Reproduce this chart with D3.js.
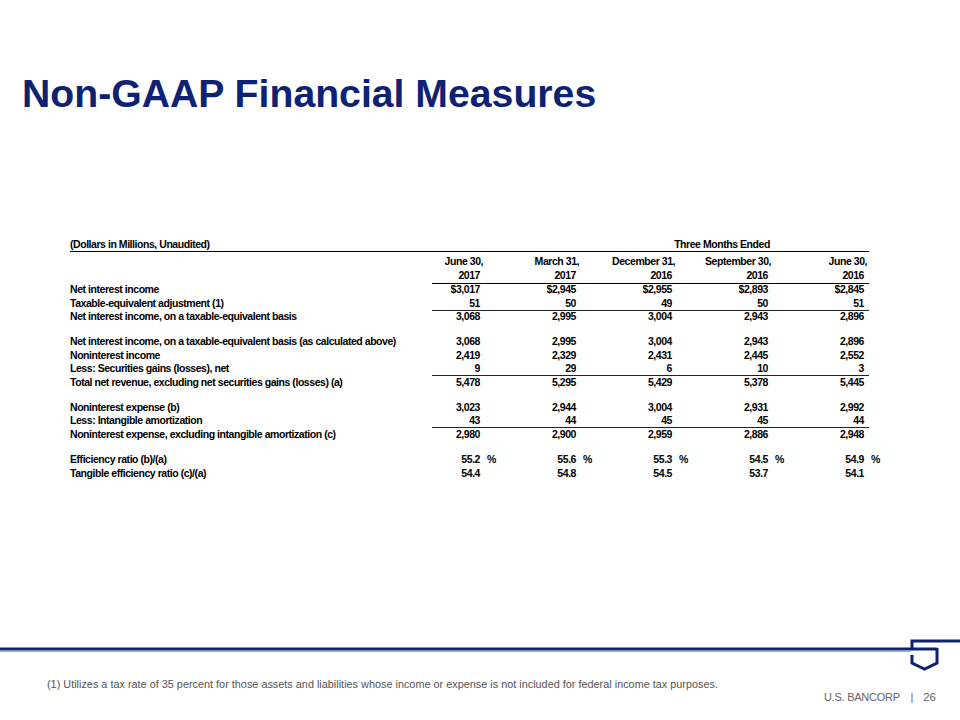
<!DOCTYPE html>
<html><head><meta charset="utf-8">
<script src="https://cdn.jsdelivr.net/npm/d3@7"></script>
<style>body{margin:0;background:#fff}svg{display:block}</style>
</head><body><svg id="c" width="960" height="720"></svg>
<script>
const title = "Non-GAAP Financial Measures";
const tableCaption = "(Dollars in Millions, Unaudited)";
const spanHeader = "Three Months Ended";
const periodMonths = ["June 30,", "March 31,", "December 31,", "September 30,", "June 30,"];
const periodYears = ["2017", "2017", "2016", "2016", "2016"];
const rowLabels = [
  "Net interest income",
  "Taxable-equivalent adjustment (1)",
  "Net interest income, on a taxable-equivalent basis",
  "Net interest income, on a taxable-equivalent basis (as calculated above)",
  "Noninterest income",
  "Less: Securities gains (losses), net",
  "Total net revenue, excluding net securities gains (losses) (a)",
  "Noninterest expense (b)",
  "Less: Intangible amortization",
  "Noninterest expense, excluding intangible amortization (c)",
  "Efficiency ratio (b)/(a)",
  "Tangible efficiency ratio (c)/(a)"
];
const rowGroups = [0,0,0,1,1,1,1,2,2,2,3,3];
const rowKinds = ["dollar","num","num","num","num","num","num","num","num","num","pct","ratio"];
const underlinedRows = [1,5,8];
const jun2017 = [3017,51,3068,3068,2419,9,5478,3023,43,2980,55.2,54.4];
const mar2017 = [2945,50,2995,2995,2329,29,5295,2944,44,2900,55.6,54.8];
const dec2016 = [2955,49,3004,3004,2431,6,5429,3004,45,2959,55.3,54.5];
const sep2016 = [2893,50,2943,2943,2445,10,5378,2931,45,2886,54.5,53.7];
const jun2016 = [2845,51,2896,2896,2552,3,5445,2992,44,2948,54.9,54.1];
const footnote = "(1) Utilizes a tax rate of 35 percent for those assets and liabilities whose income or expense is not included for federal income tax purposes.";
const brand = "U.S. BANCORP";
const pageNumber = "26";

const series = [jun2017, mar2017, dec2016, sep2016, jun2016];
const NAVY = "#0d2272";
const FONT = "'Liberation Sans', Arial, Helvetica, sans-serif";
const svg = d3.select("#c");

// Title
svg.append("text").attr("x", 22).attr("y", 107)
  .attr("font-family", FONT).attr("font-weight", "bold").attr("font-size", 39.2)
  .attr("fill", NAVY).text(title);

// Scales
const x = d3.scalePoint().domain(d3.range(series.length)).range([480, 864]);
const yRow = d3.scaleLinear().domain([0, rowLabels.length - 1]).range([289, 289 + (rowLabels.length - 1) * 13.7]);
const gapPerGroup = 11;
const yOf = i => yRow(i) + rowGroups[i] * gapPerGroup;

const t = svg.append("g").attr("font-family", FONT).attr("font-weight", "bold")
  .attr("font-size", 10.5).attr("letter-spacing", "-0.45px").attr("fill", "#000");
const base = 3.8;

// Caption & header rule
t.append("text").attr("x", 70).attr("y", 244 + base).text(tableCaption);
t.append("text").attr("x", 722).attr("y", 244 + base).attr("text-anchor", "middle").text(spanHeader);
svg.append("line").attr("x1", 70).attr("x2", 869).attr("y1", 251.5).attr("y2", 251.5)
  .attr("stroke", "#000").attr("stroke-width", 1);

// Column headers
t.selectAll("text.month").data(periodMonths).join("text").attr("class", "month")
  .attr("x", (d, i) => x(i) + 3).attr("y", 261 + base).attr("text-anchor", "end").text(d => d);
t.selectAll("text.year").data(periodYears).join("text").attr("class", "year")
  .attr("x", (d, i) => x(i)).attr("y", 275 + base).attr("text-anchor", "end").text(d => d);

const lineX1 = 432, lineX2 = 869;
svg.append("line").attr("x1", lineX1).attr("x2", lineX2).attr("y1", 283.5).attr("y2", 283.5)
  .attr("stroke", "#000").attr("stroke-width", 1);

// Row labels
t.selectAll("text.label").data(rowLabels).join("text").attr("class", "label")
  .attr("x", 70).attr("y", (d, i) => yOf(i) + base).text(d => d);

// Values
const fmtInt = d3.format(",");
const fmt1 = d3.format(".1f");
function fmtVal(v, kind) {
  if (kind === "dollar") return "$" + fmtInt(v);
  if (kind === "pct" || kind === "ratio") return fmt1(v);
  return fmtInt(v);
}
series.forEach((vals, c) => {
  t.selectAll("text.v" + c).data(vals).join("text").attr("class", "v" + c)
    .attr("x", x(c)).attr("y", (d, i) => yOf(i) + base).attr("text-anchor", "end")
    .text((d, i) => fmtVal(d, rowKinds[i]));
  const pctRows = rowKinds.map((k, i) => k === "pct" ? i : -1).filter(i => i >= 0);
  t.selectAll("text.p" + c).data(pctRows).join("text").attr("class", "p" + c)
    .attr("x", x(c) + 7).attr("y", i => yOf(i) + base).text("%");
});

// Subtotal rules
svg.selectAll("line.sub").data(underlinedRows).join("line").attr("class", "sub")
  .attr("x1", lineX1).attr("x2", lineX2)
  .attr("y1", i => Math.round((yOf(i) + yOf(i + 1)) / 2) + 0.5)
  .attr("y2", i => Math.round((yOf(i) + yOf(i + 1)) / 2) + 0.5)
  .attr("stroke", "#222").attr("stroke-width", 1);

// Bottom rule and logo
svg.append("line").attr("x1", 0).attr("x2", 937).attr("y1", 649).attr("y2", 649)
  .attr("stroke", NAVY).attr("stroke-width", 3);
svg.append("line").attr("x1", 0).attr("x2", 911).attr("y1", 651.5).attr("y2", 651.5)
  .attr("stroke", "#9aa8d0").attr("stroke-width", 1);
const p = d3.path();
p.moveTo(912, 649); p.lineTo(912, 641); p.lineTo(960, 641);
p.moveTo(937, 648); p.lineTo(937, 663); p.lineTo(924.5, 669); p.lineTo(912, 663); p.lineTo(912, 655);
svg.append("path").attr("d", p.toString()).attr("fill", "none")
  .attr("stroke", NAVY).attr("stroke-width", 3).attr("stroke-linejoin", "miter");

// Footnote
svg.append("text").attr("x", 47).attr("y", 688)
  .attr("font-family", "'Liberation Sans Narrow', 'Arial Narrow', " + FONT)
  .attr("font-size", 11).attr("fill", "#555")
  .attr("textLength", 671).attr("lengthAdjust", "spacingAndGlyphs").text(footnote);

// Brand / page
svg.append("text").attr("x", 824).attr("y", 701)
  .attr("font-family", FONT).attr("font-size", 11).attr("fill", "#666")
  .attr("textLength", 76).attr("lengthAdjust", "spacing").text(brand);
svg.append("text").attr("x", 912).attr("y", 701).attr("text-anchor", "middle")
  .attr("font-family", FONT).attr("font-size", 11).attr("fill", "#666").text("|");
svg.append("text").attr("x", 936).attr("y", 701).attr("text-anchor", "end")
  .attr("font-family", FONT).attr("font-size", 11.5).attr("fill", "#666").text(pageNumber);
</script></body></html>
